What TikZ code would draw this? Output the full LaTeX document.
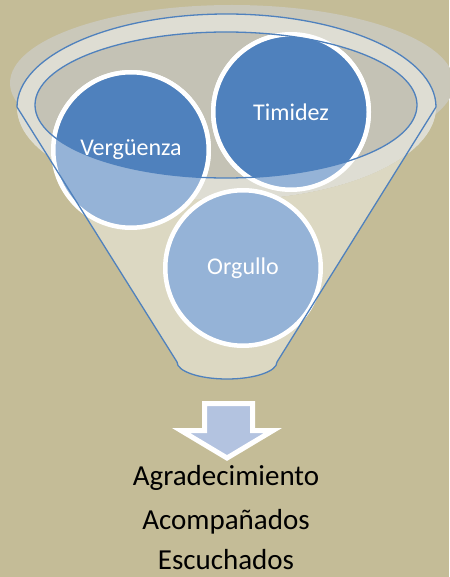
\documentclass[tikz,border=0pt]{standalone}
\usepackage{fontspec}
\setmainfont{Carlito}
\definecolor{bgtan}{HTML}{C4BC97}
\definecolor{shadowgray}{HTML}{CAC8BA}
\definecolor{funnelbody}{HTML}{DCD8C2}
\definecolor{rimlight}{HTML}{DEDDD3}
\definecolor{innergray}{HTML}{C4C2B5}
\definecolor{darkblue}{HTML}{4F81BD}
\definecolor{lightblue}{HTML}{95B3D7}
\definecolor{arrowfill}{HTML}{B3C3E0}
\tikzset{
  ball/.style={circle, draw=white, line width=4.5pt, fill=lightblue, minimum size=155.5pt, inner sep=0pt},
  balltext/.style={text=white, font=\fontsize{24}{27}\selectfont},
  outline/.style={draw=darkblue, line width=1.3pt},
  result/.style={text=black, anchor=base, inner sep=0pt, font=\fontsize{29}{33}\selectfont}
}
\begin{document}
\begin{tikzpicture}[x=1pt,y=-1pt]
\useasboundingbox (0,0) rectangle (449,577);
\fill[bgtan] (0,0) rectangle (449,577);
% shadow of the rim
\fill[shadowgray] (232,83) ellipse[x radius=222, y radius=78];
% funnel body
\fill[funnelbody] (17,107) -- (177,362) arc[start angle=180, end angle=0, x radius=50, y radius=17]
  -- (436,107) arc[start angle=0, end angle=180, x radius=209.5, y radius=93] -- cycle;
\fill[rimlight] (226.5,107) ellipse[x radius=209.5, y radius=93];
\fill[innergray] (226,105) ellipse[x radius=191, y radius=73];
% circles
\node[ball] (verg) at (131,150) {};
\node[ball] (timi) at (291,112) {};
\node[ball] (orgu) at (243,268) {};
\begin{scope}
  \clip (226,105) ellipse[x radius=191, y radius=73];
  \fill[darkblue] (verg.center) circle[radius=77.75];
  \fill[darkblue] (timi.center) circle[radius=77.75];
  \draw[white, line width=4.5pt] (verg.center) circle[radius=77.75];
  \draw[white, line width=4.5pt] (timi.center) circle[radius=77.75];
\end{scope}
% funnel outlines
\draw[outline] (17,107) arc[start angle=180, end angle=360, x radius=209.5, y radius=93];
\draw[outline, line join=round] (17,107) -- (177,362) arc[start angle=180, end angle=0, x radius=50, y radius=17] -- (436,107);
\draw[outline] (226,105) ellipse[x radius=191, y radius=73];
% texts
\node[balltext] (vergt) at (verg.center) {Vergüenza};
\node[balltext] (timit) at (timi.center) {Timidez};
\node[balltext] (orgut) at (orgu.center) {Orgullo};
% arrow
\draw[white, line width=5pt, fill=arrowfill, line join=miter]
  (204.5,403.5) -- (252.5,403.5) -- (252.5,430.5) -- (273,430.5) -- (227,458)
  -- (181,430.5) -- (204.5,430.5) -- cycle;
\node[result] (agra) at (226,485) {Agradecimiento};
\node[result] (acom) at (226,529) {Acompañados};
\node[result] (escu) at (226,569) {Escuchados};
\end{tikzpicture}
\end{document}
